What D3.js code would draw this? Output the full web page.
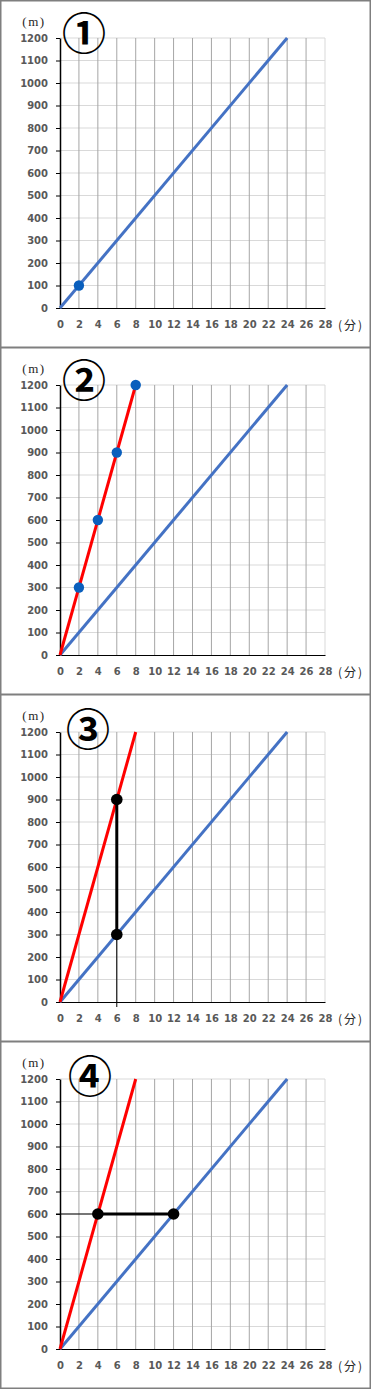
<!DOCTYPE html>
<html>
<head>
<meta charset="utf-8">
<script src="https://cdn.jsdelivr.net/npm/d3@7"></script>
<style>
  body { margin: 0; background: #fff; }
  .tick text { font-family: "DejaVu Sans", sans-serif; font-weight: bold; font-size: 10px; fill: #595959; }
</style>
</head>
<body>
<div id="chart-area"></div>
<script>
// ---------------- data ----------------
const xTicks = [0, 2, 4, 6, 8, 10, 12, 14, 16, 18, 20, 22, 24, 26, 28];
const yTicks = [0, 100, 200, 300, 400, 500, 600, 700, 800, 900, 1000, 1100, 1200];
const panelLabels = ['①', '②', '③', '④'];

// walker (blue) and bike (red) lines: minutes -> metres
const walkX = [0, 24];
const walkY = [0, 1200];
const bikeX = [0, 8];
const bikeY = [0, 1200];

// dots per panel
const p1DotsX = [2];
const p1DotsY = [100];
const p2DotsX = [2, 4, 6, 8];
const p2DotsY = [300, 600, 900, 1200];
const p3DotsX = [6, 6];
const p3DotsY = [900, 300];
const p4DotsX = [4, 12];
const p4DotsY = [600, 600];

const zip = (xs, ys) => xs.map((x, i) => ({ x: x, y: ys[i] }));

// ---------------- layout ----------------
const width = 371;
const height = 1389;
const panelH = 347;

const svg = d3.select('#chart-area')
    .append('svg')
    .attr('width', width)
    .attr('height', height);

const x = d3.scaleLinear().domain([0, 28]).range([60, 325]);
const y = d3.scaleLinear().domain([0, 1200]).range([308, 38]);

const line = d3.line().x(d => x(d.x)).y(d => y(d.y));

const labelPos = [[84, 31], [84, 31], [88, 33], [90, 33]];

const panels = [
    { walk: true, bike: false, dots: zip(p1DotsX, p1DotsY), dotColor: '#0a5fbd', segs: [] },
    { walk: true, bike: true, dots: zip(p2DotsX, p2DotsY), dotColor: '#0a5fbd', segs: [] },
    { walk: true, bike: true, dots: zip(p3DotsX, p3DotsY), dotColor: '#000',
      segs: [{ a: { x: 6, y: 300 }, b: { x: 6, y: 0 }, w: 1, extendDown: true },
             { a: { x: 6, y: 900 }, b: { x: 6, y: 300 }, w: 3 }] },
    { walk: true, bike: true, dots: zip(p4DotsX, p4DotsY), dotColor: '#000',
      segs: [{ a: { x: 0, y: 600 }, b: { x: 4, y: 600 }, w: 1, extendLeft: true },
             { a: { x: 4, y: 600 }, b: { x: 12, y: 600 }, w: 3 }] }
];

panels.forEach((p, i) => {
    const g = svg.append('g').attr('transform', `translate(0, ${i * panelH})`);

    // panel frame
    g.append('rect')
        .attr('x', 0.75).attr('y', 0.75)
        .attr('width', width - 1.5).attr('height', panelH - 0.5)
        .attr('fill', 'none')
        .attr('stroke', '#7f7f7f')
        .attr('stroke-width', 1.5);

    // horizontal gridlines
    g.append('g').selectAll('line')
        .data(yTicks.filter(d => d > 0))
        .enter().append('line')
        .attr('x1', x(0)).attr('x2', x(28))
        .attr('y1', d => y(d)).attr('y2', d => y(d))
        .attr('stroke', '#d9d9d9').attr('stroke-width', 1);

    // vertical gridlines
    g.append('g').selectAll('line')
        .data(xTicks.filter(d => d > 0))
        .enter().append('line')
        .attr('x1', d => x(d)).attr('x2', d => x(d))
        .attr('y1', y(0)).attr('y2', y(1200))
        .attr('stroke', d => d === 28 ? '#d9d9d9' : '#a6a6a6').attr('stroke-width', 1);

    // axes
    const yAxis = g.append('g')
        .attr('transform', `translate(${x(0)},0)`)
        .call(d3.axisLeft(y).tickValues(yTicks).tickFormat(d3.format('d'))
            .tickSize(4).tickSizeOuter(0).tickPadding(8));
    yAxis.select('.domain').attr('stroke', '#000').attr('stroke-width', 1.5);
    yAxis.selectAll('.tick line').attr('stroke', '#000');

    const xAxis = g.append('g')
        .attr('transform', `translate(0,${y(0)})`)
        .call(d3.axisBottom(x).tickValues(xTicks).tickFormat(d3.format('d'))
            .tickSize(0).tickSizeOuter(0).tickPadding(13));
    xAxis.select('.domain').attr('stroke', '#000').attr('stroke-width', 1);

    // unit labels
    g.append('text')
        .attr('x', 34).attr('y', 26)
        .attr('text-anchor', 'middle')
        .style('font-family', '"Liberation Serif", serif')
        .style('font-size', '13px')
        .style('letter-spacing', '1.5px')
        .attr('fill', '#262626')
        .text('(m)');

    g.append('text')
        .attr('x', 338).attr('y', y(0) + 22)
        .style('font-family', '"Noto Sans CJK JP", sans-serif')
        .style('font-size', '12px')
        .style('letter-spacing', '2px')
        .attr('fill', '#262626')
        .text('(分)');

    // panel number
    g.append('text')
        .attr('x', labelPos[i][0]).attr('y', labelPos[i][1])
        .attr('text-anchor', 'middle')
        .attr('dominant-baseline', 'central')
        .style('font-family', '"Noto Sans CJK JP", sans-serif')
        .style('font-weight', 'bold')
        .style('font-size', '44px')
        .attr('fill', '#000')
        .text(panelLabels[i]);

    // series lines
    if (p.walk) {
        g.append('path')
            .datum(zip(walkX, walkY))
            .attr('d', line)
            .attr('fill', 'none')
            .attr('stroke', '#4472c4')
            .attr('stroke-width', 3);
    }
    if (p.bike) {
        g.append('path')
            .datum(zip(bikeX, bikeY))
            .attr('d', line)
            .attr('fill', 'none')
            .attr('stroke', '#ff0000')
            .attr('stroke-width', 3);
    }

    // helper segments
    p.segs.forEach(s => {
        g.append('line')
            .attr('x1', s.extendLeft ? x(s.a.x) - 4 : x(s.a.x))
            .attr('y1', y(s.a.y))
            .attr('x2', x(s.b.x))
            .attr('y2', s.extendDown ? y(s.b.y) + 5 : y(s.b.y))
            .attr('stroke', '#000')
            .attr('stroke-width', s.w);
    });

    // dots
    g.append('g').selectAll('circle')
        .data(p.dots)
        .enter().append('circle')
        .attr('cx', d => x(d.x))
        .attr('cy', d => y(d.y))
        .attr('r', p.dotColor === '#000' ? 5.8 : 5.2)
        .attr('fill', p.dotColor);
});
</script>
</body>
</html>
